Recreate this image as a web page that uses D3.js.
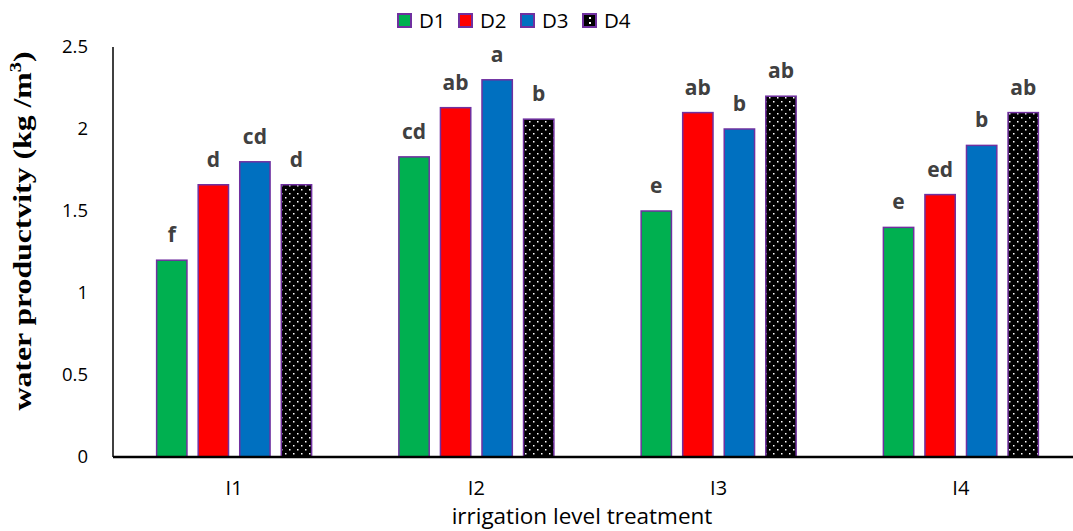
<!DOCTYPE html>
<html lang="en">
<head>
    <meta charset="UTF-8">
    <title>Water productivity</title>
    <style>
        body { margin: 0; background: white; }
        svg { display: block; font-family: "Open Sans", "Liberation Sans", sans-serif; }
    </style>
</head>
<body>
    <svg width="1073" height="531" id="chart"></svg>

    <script src="https://d3js.org/d3.v7.min.js"></script>
    <script>
        // data
        const categories = ["I1", "I2", "I3", "I4"];
        const series = ["D1", "D2", "D3", "D4"];
        const values = {
            D1: [1.20, 1.83, 1.50, 1.40],
            D2: [1.66, 2.13, 2.10, 1.60],
            D3: [1.80, 2.30, 2.00, 1.90],
            D4: [1.66, 2.06, 2.20, 2.10]
        };
        const letters = {
            D1: ["f", "cd", "e", "e"],
            D2: ["d", "ab", "ab", "ed"],
            D3: ["cd", "a", "b", "b"],
            D4: ["d", "b", "ab", "ab"]
        };
        const yTicks = [0, 0.5, 1, 1.5, 2, 2.5];
        const colors = { D1: "#00B050", D2: "#FF0000", D3: "#0070C0", D4: "url(#dots)" };

        const svg = d3.select("#chart");
        const plotLeft = 113, plotRight = 1082, plotTop = 47, plotBottom = 457;

        // dotted pattern for D4
        const defs = svg.append("defs");
        const pat = defs.append("pattern")
            .attr("id", "dots")
            .attr("patternUnits", "userSpaceOnUse")
            .attr("width", 8).attr("height", 8);
        pat.append("rect").attr("width", 8).attr("height", 8).attr("fill", "black");
        pat.append("rect").attr("x", 1).attr("y", 1).attr("width", 1.5).attr("height", 1.5).attr("fill", "white");
        pat.append("rect").attr("x", 5).attr("y", 5).attr("width", 1.5).attr("height", 1.5).attr("fill", "white");

        const x = d3.scaleBand().domain(categories).range([plotLeft, plotRight]);
        const xInner = d3.scaleBand().domain(series).range([0, 155]).paddingInner(0.27);
        const y = d3.scaleLinear().domain([0, 2.5]).range([plotBottom, plotTop]);

        // bars
        series.forEach(s => {
            const rows = categories.map((c, i) => ({ c, v: values[s][i], l: letters[s][i] }));
            const g = svg.append("g");
            g.selectAll("rect")
                .data(rows)
                .enter()
                .append("rect")
                .attr("x", d => x(d.c) + x.bandwidth() / 2 - 77.5 + xInner(s))
                .attr("y", d => y(d.v))
                .attr("width", xInner.bandwidth())
                .attr("height", d => plotBottom - y(d.v))
                .attr("fill", colors[s])
                .attr("stroke", "#7030A0")
                .attr("stroke-width", 1.5);

            g.selectAll("text")
                .data(rows)
                .enter()
                .append("text")
                .attr("x", d => x(d.c) + x.bandwidth() / 2 - 77.5 + xInner(s) + xInner.bandwidth() / 2)
                .attr("y", d => y(d.v) - 18)
                .attr("text-anchor", "middle")
                .attr("font-size", 21)
                .attr("font-weight", "bold")
                .attr("fill", "#404040")
                .text(d => d.l);
        });

        // y axis
        svg.append("line")
            .attr("x1", plotLeft).attr("x2", plotLeft)
            .attr("y1", plotTop).attr("y2", plotBottom)
            .attr("stroke", "black").attr("stroke-width", 1.5);
        svg.selectAll(".ytick")
            .data(yTicks)
            .enter()
            .append("text")
            .attr("x", 88)
            .attr("y", d => y(d))
            .attr("dy", "0.35em")
            .attr("text-anchor", "end")
            .attr("font-size", 18.5)
            .attr("fill", "black")
            .text(d => d);

        // x axis
        svg.append("line")
            .attr("x1", plotLeft).attr("x2", 1073)
            .attr("y1", plotBottom).attr("y2", plotBottom)
            .attr("stroke", "black").attr("stroke-width", 2.5);
        svg.selectAll(".xtick")
            .data(categories)
            .enter()
            .append("text")
            .attr("x", d => x(d) + x.bandwidth() / 2)
            .attr("y", 488)
            .attr("dy", "0.35em")
            .attr("text-anchor", "middle")
            .attr("font-size", 20)
            .attr("fill", "black")
            .text(d => d);

        // axis titles
        svg.append("text")
            .attr("x", 582).attr("y", 524)
            .attr("text-anchor", "middle")
            .attr("font-size", 22.5)
            .attr("fill", "black")
            .text("irrigation level treatment");

        const yt = svg.append("text")
            .attr("transform", "translate(31,231) rotate(-90) scale(1.27,1)")
            .attr("text-anchor", "middle")
            .attr("font-family", "Liberation Serif, serif")
            .attr("font-weight", "bold")
            .attr("font-size", 25)
            .attr("fill", "black");
        yt.append("tspan").text("water productvity (kg /m");
        yt.append("tspan").attr("font-size", 16).attr("dy", -10).text("3");
        yt.append("tspan").attr("dy", 10).text(")");

        // legend
        const legendX = [398, 459, 521, 583];
        const lg = svg.selectAll(".leg")
            .data(series)
            .enter()
            .append("g")
            .attr("transform", (d, i) => `translate(${legendX[i]},14)`);
        lg.append("rect")
            .attr("width", 13).attr("height", 13)
            .attr("fill", d => d === "D4" ? "black" : colors[d])
            .attr("stroke", "#7030A0").attr("stroke-width", 2);
        lg.filter(d => d === "D4").append("rect")
            .attr("x", 6).attr("y", 3).attr("width", 2).attr("height", 2).attr("fill", "white");
        lg.filter(d => d === "D4").append("rect")
            .attr("x", 6).attr("y", 8).attr("width", 2).attr("height", 2).attr("fill", "white");
        lg.append("text")
            .attr("x", 21).attr("y", 6.5)
            .attr("dy", "0.35em")
            .attr("font-size", 20.5)
            .attr("fill", "black")
            .text(d => d);
    </script>
</body>
</html>
